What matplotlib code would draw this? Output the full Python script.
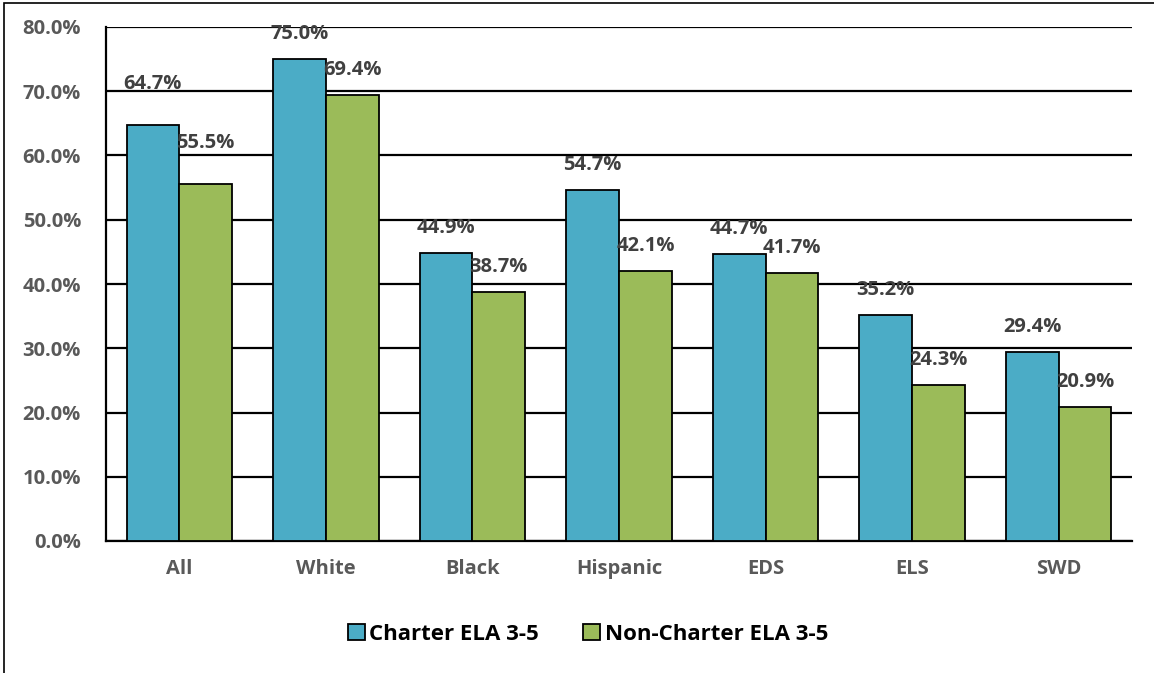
import matplotlib
matplotlib.use("Agg")
import matplotlib.pyplot as plt
import numpy as np
from matplotlib.patches import Rectangle

categories = ["All", "White", "Black", "Hispanic", "EDS", "ELS", "SWD"]
charter = [64.7, 75.0, 44.9, 54.7, 44.7, 35.2, 29.4]
non_charter = [55.5, 69.4, 38.7, 42.1, 41.7, 24.3, 20.9]
yticks = [0, 10, 20, 30, 40, 50, 60, 70, 80]
series_names = ["Charter ELA 3-5", "Non-Charter ELA 3-5"]

plt.rcParams['font.family'] = ['Open Sans', 'DejaVu Sans']

fig = plt.figure(figsize=(11.54, 6.73), dpi=100)
ax = fig.add_axes([106/1154, 1-541/673, (1132-106)/1154, (541-27)/673])

x = np.arange(len(categories))
w = 0.36
b1 = ax.bar(x - w/2, charter, w, color="#4BACC6", edgecolor="black", linewidth=1.3, zorder=3, label=series_names[0])
b2 = ax.bar(x + w/2, non_charter, w, color="#9BBB59", edgecolor="black", linewidth=1.3, zorder=3, label=series_names[1])

lab_color = "#404040"
for i, (bars, vals) in enumerate([(b1, charter), (b2, non_charter)]):
    for j, (r, v) in enumerate(zip(bars, vals)):
        off = 30 if j == 0 else 18
        ax.annotate(f"{v:.1f}%", (r.get_x() + r.get_width()/2, v), xytext=(0, off),
                    textcoords="offset points", ha="center", va="center",
                    fontsize=14.5, fontweight="bold", color=lab_color, zorder=5)

ax.set_xlim(-0.5, len(categories) - 0.5)
ax.set_ylim(0, 80)
ax.set_yticks(yticks)
ax.set_yticklabels([f"{t:.1f}%" for t in yticks])
ax.set_xticks(x)
ax.set_xticklabels(categories)
ax.yaxis.grid(True, color="black", linewidth=1.6, zorder=0)
ax.set_axisbelow(True)
for s in ["top", "right"]:
    ax.spines[s].set_visible(False)
ax.spines["left"].set_linewidth(1.6)
ax.spines["bottom"].set_linewidth(1.6)
ax.tick_params(axis="both", length=0, labelsize=14.5, labelcolor="#595959")
ax.tick_params(axis="y", pad=18)
ax.tick_params(axis="x", pad=13)
for t in ax.get_xticklabels() + ax.get_yticklabels():
    t.set_fontweight("bold")

leg = fig.legend(handles=[b1, b2], loc="center", bbox_to_anchor=(588/1154, 1-634/673),
                 ncol=2, frameon=False, fontsize=16, handlelength=0.75, handleheight=0.75,
                 handletextpad=0.2, columnspacing=2.0)
for t in leg.get_texts():
    t.set_fontweight("bold")
    t.set_color("black")

# outer chart border
fig.add_artist(Rectangle((4/1154, -0.1), 1.2, 1 - 3.5/673 + 0.1, transform=fig.transFigure,
                         fill=False, edgecolor="black", linewidth=1.2))

fig.savefig("out.png", dpi=100)
